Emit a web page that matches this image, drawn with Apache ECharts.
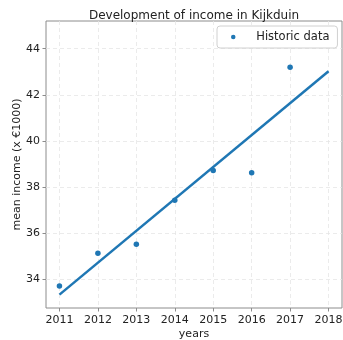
<!DOCTYPE html>
<html>
<head>
<meta charset="utf-8">
<script src="https://cdn.jsdelivr.net/npm/echarts@6/dist/echarts.min.js"></script>
<style>
  html, body { margin: 0; padding: 0; background: #fff; }
  #chart { width: 343px; height: 340px; }
</style>
</head>
<body>
<div id="chart"></div>
<script>
// Yearly mean income observations (x €1000)
const years = [2011, 2012, 2013, 2014, 2015, 2016, 2017];
const income = [33.71, 35.13, 35.52, 37.43, 38.72, 38.62, 43.19];

// Linear trend line endpoints
const trendYears = [2011, 2018];
const trendIncome = [33.34, 43.02];

// Tick positions
const xTicks = [2011, 2012, 2013, 2014, 2015, 2016, 2017, 2018];
const yTicks = [34, 36, 38, 40, 42, 44];

const blue = '#1f77b4';
const font = 'DejaVu Sans';

const chart = echarts.init(document.getElementById('chart'), null, { renderer: 'canvas' });

chart.setOption({
  animation: false,
  title: {
    text: 'Development of income in Kijkduin',
    left: 189, top: 5, textAlign: 'center',
    textStyle: { fontFamily: font, fontSize: 12, fontWeight: 'normal', color: '#222' }
  },
  legend: {
    data: [{ name: 'Historic data', itemStyle: { color: blue } }],
    left: 217, top: 26,
    padding: [5, 8, 5, 14],
    itemWidth: 8, itemHeight: 4.5, itemGap: 0,
    backgroundColor: '#fff',
    borderColor: '#d0d0d0', borderWidth: 1, borderRadius: 3,
    textStyle: { fontFamily: font, fontSize: 11.5, color: '#222', padding: [0, 0, 0, 14] }
  },
  grid: {
    left: 46, right: 1, top: 21, bottom: 32,
    outerBoundsMode: 'none', containLabel: false,
    show: true, borderColor: '#8c8c8c', borderWidth: 1
  },
  xAxis: {
    type: 'value',
    min: 2010.65, max: 2018.35,
    name: 'years', nameLocation: 'middle', nameGap: 20.5, nameMoveOverlap: false,
    nameTextStyle: { fontFamily: font, fontSize: 11, color: '#222' },
    axisLine: { show: false },
    axisTick: { show: true, length: 3.5, lineStyle: { color: '#8c8c8c' }, customValues: xTicks },
    axisLabel: {
      fontFamily: font, fontSize: 11, color: '#222', margin: 7, customValues: xTicks,
      formatter: v => String(Math.round(v))
    },
    splitLine: { show: true, lineStyle: { color: '#e6e6e6', type: [4, 3], width: 0.8 } }
  },
  yAxis: {
    type: 'value',
    min: 32.76, max: 45.2,
    name: 'mean income (x €1000)', nameLocation: 'middle', nameGap: 23, nameRotate: 90,
    nameMoveOverlap: false,
    nameTextStyle: { fontFamily: font, fontSize: 11, color: '#222' },
    axisLine: { show: false },
    axisTick: { show: true, length: 3.5, lineStyle: { color: '#8c8c8c' }, customValues: yTicks },
    axisLabel: { fontFamily: font, fontSize: 11, color: '#222', margin: 6, customValues: yTicks },
    splitLine: { show: true, lineStyle: { color: '#e6e6e6', type: [4, 3], width: 0.8 } }
  },
  series: [
    {
      name: 'Historic data',
      type: 'scatter',
      data: years.map((y, i) => [y, income[i]]),
      symbol: 'circle', symbolSize: 5.5,
      itemStyle: { color: blue, opacity: 1 },
      z: 3
    },
    {
      name: 'trend',
      type: 'line',
      data: trendYears.map((y, i) => [y, trendIncome[i]]),
      showSymbol: false, symbol: 'none',
      lineStyle: { color: blue, width: 2.5 },
      z: 2
    }
  ]
});
</script>
</body>
</html>
